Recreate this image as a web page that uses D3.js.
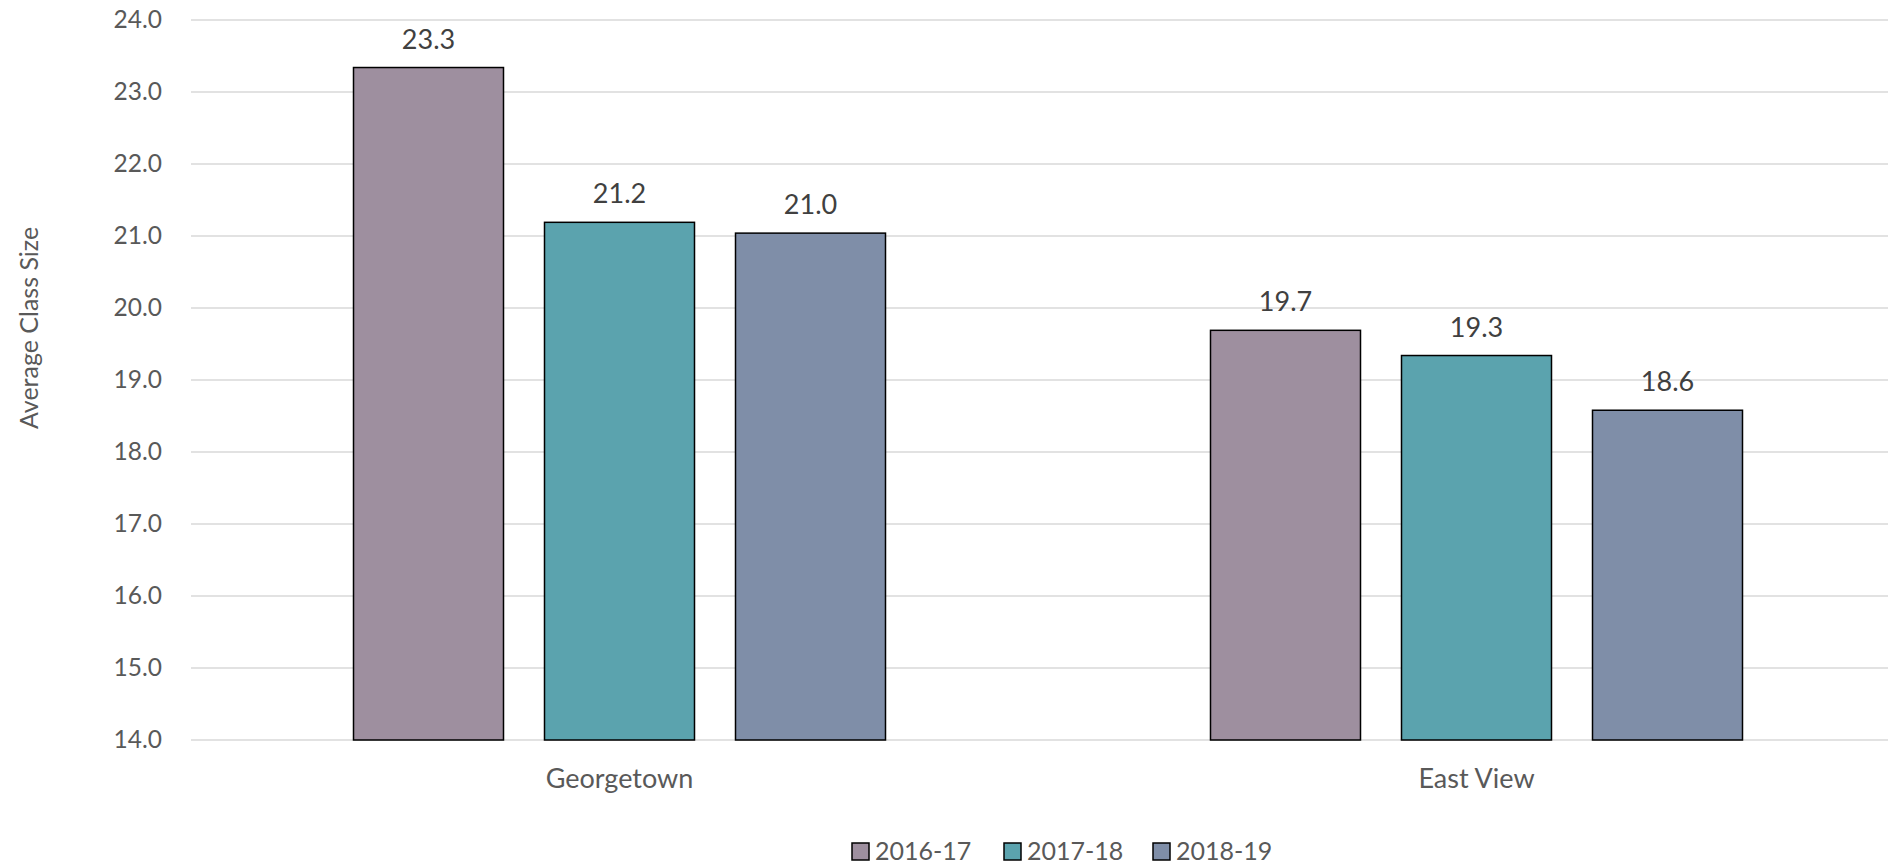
<!DOCTYPE html>
<html>
<head>
<meta charset="utf-8">
<script src="https://cdn.jsdelivr.net/npm/d3@7/dist/d3.min.js"></script>
<style>
  html, body { margin: 0; padding: 0; background: #fff; }
  svg { display: block; }
  text { font-family: Lato, "Open Sans", sans-serif; }
</style>
</head>
<body>
<svg id="chart" width="1888" height="865"></svg>
<script>
const categories = ["Georgetown", "East View"];
const seriesNames = ["2016-17", "2017-18", "2018-19"];
const values2016 = [23.34, 19.69];
const values2017 = [21.19, 19.34];
const values2018 = [21.04, 18.58];
const yTicks = [14, 15, 16, 17, 18, 19, 20, 21, 22, 23, 24];
const colors = ["#9E8F9F", "#5BA3AE", "#7F8EA8"];

const seriesValues = [values2016, values2017, values2018];
const W = 1888, H = 865;
const svg = d3.select("#chart");

const y = d3.scaleLinear().domain([14, 24]).range([740, 20]);
const x0 = d3.scaleBand().domain(categories).range([191, 1905]).padding(0);
const groupW = 532;
const x1 = d3.scaleBand().domain(seriesNames).range([0, groupW]).paddingInner(41 / 191).paddingOuter(0);

// gridlines
svg.append("g").selectAll("line").data(yTicks).join("line")
  .attr("x1", 191).attr("x2", W)
  .attr("y1", d => y(d)).attr("y2", d => y(d))
  .attr("stroke", "#D9D9D9").attr("stroke-width", 1.5);

// y axis labels
const yAxis = d3.axisLeft(y).tickValues(yTicks).tickFormat(d3.format(".1f")).tickSize(0).tickPadding(0);
const ya = svg.append("g").attr("transform", "translate(162,0)").call(yAxis);
ya.select(".domain").remove();
ya.selectAll("text").attr("font-family", "Lato, sans-serif").attr("font-size", 24.5).attr("fill", "#595959");

// bars
const groups = svg.append("g").selectAll("g").data(categories).join("g")
  .attr("transform", d => `translate(${x0(d) + (x0.bandwidth() - groupW) / 2},0)`);

groups.each(function(cat, ci) {
  const g = d3.select(this);
  const rows = seriesNames.map((s, si) => ({ s, si, v: seriesValues[si][ci] }));
  g.selectAll("rect").data(rows).join("rect")
    .attr("x", d => x1(d.s))
    .attr("y", d => y(d.v))
    .attr("width", x1.bandwidth())
    .attr("height", d => y(14) - y(d.v))
    .attr("fill", d => colors[d.si])
    .attr("stroke", "#000").attr("stroke-width", 1.5);
  g.selectAll("text").data(rows).join("text")
    .attr("x", d => x1(d.s) + x1.bandwidth() / 2)
    .attr("y", d => y(d.v) - 19)
    .attr("text-anchor", "middle")
    .attr("font-size", 27).attr("fill", "#404040")
    .text(d => d.v.toFixed(1));
});

// category labels
svg.append("g").selectAll("text").data(categories).join("text")
  .attr("x", d => x0(d) + x0.bandwidth() / 2)
  .attr("y", 788)
  .attr("text-anchor", "middle")
  .attr("font-size", 27).attr("fill", "#595959")
  .text(d => d);

// y title
svg.append("text")
  .attr("transform", "translate(38,328) rotate(-90)")
  .attr("text-anchor", "middle")
  .attr("font-size", 25).attr("fill", "#595959")
  .text("Average Class Size");

// legend
const legendX = [852, 1004, 1153];
const lg = svg.append("g").selectAll("g").data(seriesNames).join("g")
  .attr("transform", (d, i) => `translate(${legendX[i]},843)`);
lg.append("rect").attr("width", 17).attr("height", 17)
  .attr("fill", (d, i) => colors[i]).attr("stroke", "#000").attr("stroke-width", 1.5);
lg.append("text").attr("x", 23).attr("y", 17)
  .attr("font-size", 25).attr("fill", "#595959").text(d => d);
</script>
</body>
</html>
